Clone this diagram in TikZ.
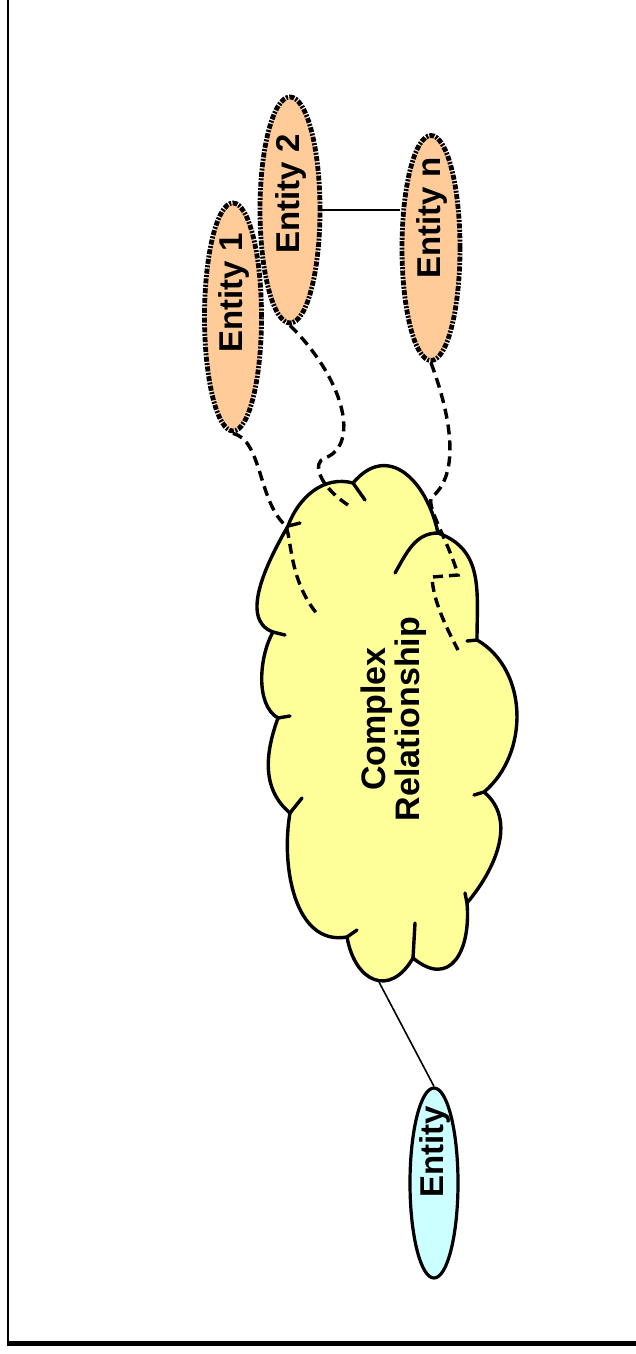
\documentclass[tikz,border=0pt]{standalone}
\usepackage{fontspec}
\setmainfont{Liberation Sans}
\usetikzlibrary{shapes.geometric}
\definecolor{entityorange}{HTML}{FFCC99}
\definecolor{entitycyan}{HTML}{CCFFFF}
\definecolor{cloudyellow}{HTML}{FFFF99}

\begin{document}
\begin{tikzpicture}[x=0.5pt, y=0.5pt,
    entity/.style={ellipse, draw, fill=entityorange, line width=2.4pt,
      dash pattern=on 2.5pt off 0.7pt on 1pt off 0.7pt, inner sep=0pt},
    plainentity/.style={ellipse, draw, fill=entitycyan, line width=1.6pt, inner sep=0pt},
    etext/.style={rotate=90, font=\bfseries\fontsize{16.5}{18}\selectfont, inner sep=0pt},
    link/.style={line width=0.8pt},
    hidden/.style={line width=1.7pt, dash pattern=on 5pt off 3pt},
    lobe/.style={line width=1.7pt, line cap=round, line join=round}]

\useasboundingbox (0,0) rectangle (636,-1354);

% Frame
\draw[line width=1pt] (8,0) -- (8,-1343.5);
\draw[line width=2.8pt] (7,-1343.5) -- (636,-1343.5);

% Cloud lobe junctions
\coordinate (P1)  at (288,-526);
\coordinate (P2)  at (353,-483);
\coordinate (P3)  at (438,-533);
\coordinate (P4)  at (477,-640);
\coordinate (P5)  at (484,-792);
\coordinate (P6)  at (467,-903);
\coordinate (P7)  at (413,-958);
\coordinate (P8)  at (347,-937);
\coordinate (P9)  at (290,-813);
\coordinate (P9b) at (278,-718);
\coordinate (P10) at (273,-632);

% Cloud outline
\draw[lobe, fill=cloudyellow] (P1)
  to[out=70, in=165] (P2)
  to[out=50, in=102, looseness=1.4] (P3)
  to[out=-20, in=90, looseness=1.1] (P4)
  to[out=-30, in=40] (P5)
  to[out=-40, in=50] (P6)
  to[out=-85, in=-40, looseness=1.6] (P7)
  to[out=-120, in=-80, looseness=1.7] (P8)
  to[out=190, in=-100] (P9)
  to[out=140, in=-110] (P9b)
  to[out=150, in=-120, looseness=0.8] (P10)
  to[out=160, in=-120, looseness=0.9] (P1) -- cycle;

% Inner lobe strokes
\draw[lobe] (P1) -- (300,-523);
\draw[lobe] (P2) -- (365,-500);
\draw[lobe] (P3) to[out=180, in=60] (395,-573);
\draw[lobe] (P4) -- (467,-641);
\draw[lobe] (P5) -- (474,-795);
\draw[lobe] (P6) -- (465,-893);
\draw[lobe] (P7) -- (415,-923);
\draw[lobe] (P8) -- (357,-930);
\draw[lobe] (P9) -- (302,-798);
\draw[lobe] (P9b) -- (290,-716);
\draw[lobe] (P10) -- (285,-635);

\node[etext, align=center, font=\bfseries\fontsize{17}{15.5}\selectfont] (rel) at (394,-719) {Complex\\Relationship};

% Entities
\node[entity, minimum width=28.5pt, minimum height=114pt] (E1) at (233,-317) {};
\node[etext] (E1t) at (234,-293) {Entity 1};
\node[entity, minimum width=30pt, minimum height=113pt] (E2) at (290,-210) {};
\node[etext] (E2t) at (291,-194) {Entity 2};
\node[entity, minimum width=29pt, minimum height=112.5pt] (En) at (431,-248) {};
\node[etext] (Ent) at (432,-218) {Entity n};
\node[plainentity, minimum width=24pt, minimum height=95pt] (E) at (434,-1183) {};
\node[etext] (Et) at (435,-1152) {Entity};

% Connectors
\draw[link] (E2.east) -- (E2.east -| En.west);
\coordinate (cbot) at (379,-982);
\draw[link] (cbot) -- (E.north);

% Dashed links into the cloud
\coordinate (h1) at (318,-615);
\coordinate (h2) at (348,-505);
\coordinate (h3) at (458,-650);
\draw[hidden] (E1.south) .. controls (262,-440) and (258,-500) .. (285,-525)
  .. controls (292,-535) and (288,-580) .. (h1);
\draw[hidden] (E2.south) .. controls (345,-380) and (360,-445) .. (325,-458)
  .. controls (312,-462) and (318,-485) .. (h2);
\draw[hidden] (En.south) .. controls (445,-400) and (465,-470) .. (432,-497)
  .. controls (425,-505) and (448,-540) .. (458,-575) -- (432,-577)
  .. controls (433,-600) and (445,-625) .. (h3);

\end{tikzpicture}
\end{document}
